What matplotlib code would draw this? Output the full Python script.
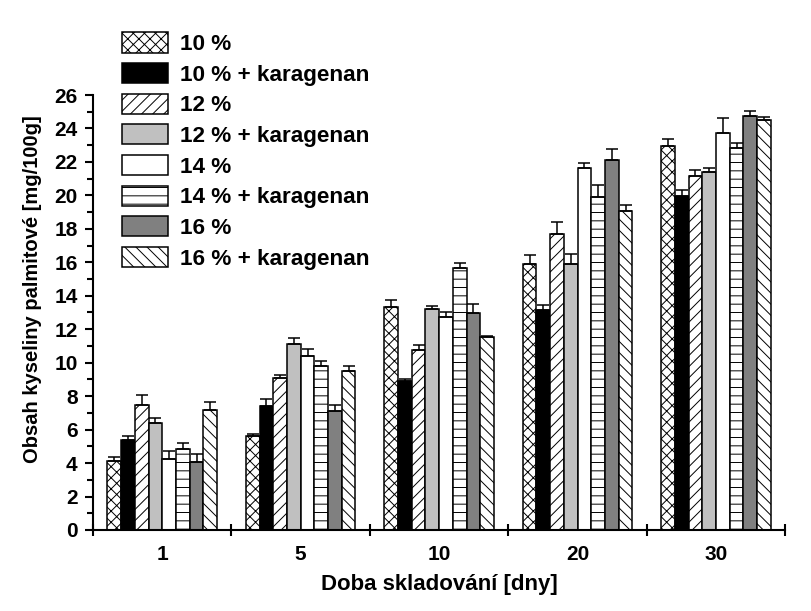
import numpy as np
import matplotlib
matplotlib.use('Agg')
import matplotlib.pyplot as plt
from matplotlib.ticker import MultipleLocator, FixedLocator

plt.rcParams['font.family'] = ['Liberation Sans', 'DejaVu Sans']
plt.rcParams['font.weight'] = 'bold'
plt.rcParams['hatch.linewidth'] = 0.7

days = ['1', '5', '10', '20', '30']
series = ['10 %', '10 % + karagenan', '12 %', '12 % + karagenan',
          '14 %', '14 % + karagenan', '16 %', '16 % + karagenan']

# mean values per series (one value per storage day)
v10 = [4.12, 5.62, 13.31, 15.88, 22.93]
v10k = [5.38, 7.41, 8.93, 13.15, 19.94]
v12 = [7.47, 9.08, 10.76, 17.67, 21.14]
v12k = [6.38, 11.10, 13.19, 15.88, 21.38]
v14 = [4.22, 10.40, 12.71, 21.62, 23.71]
v14k = [4.84, 9.80, 15.66, 19.89, 22.81]
v16 = [4.05, 7.10, 12.97, 22.10, 24.75]
v16k = [7.15, 9.50, 11.55, 19.07, 24.49]

# upper error bars
e10 = [0.23, 0.10, 0.44, 0.54, 0.46]
e10k = [0.22, 0.40, 0.10, 0.30, 0.36]
e12 = [0.60, 0.17, 0.30, 0.74, 0.40]
e12k = [0.30, 0.40, 0.18, 0.60, 0.24]
e14 = [0.50, 0.40, 0.32, 0.30, 0.90]
e14k = [0.36, 0.30, 0.28, 0.71, 0.30]
e16 = [0.47, 0.40, 0.54, 0.65, 0.31]
e16k = [0.48, 0.30, 0.05, 0.34, 0.18]

values = [v10, v10k, v12, v12k, v14, v14k, v16, v16k]
errors = [e10, e10k, e12, e12k, e14, e14k, e16, e16k]
colors = ['white', 'black', 'white', '#c0c0c0', 'white', 'white', '#808080', 'white']
hatches = ['xxx', None, '///', None, None, '--', None, '\\\\\\']

fig = plt.figure(figsize=(8.11, 6.11), dpi=100)
ax = fig.add_axes([0.1147, 0.1326, 0.8535, 0.7119])

x = np.arange(len(days))
w = 0.099
for i in range(len(series)):
    pos = x + (i - 3.5) * w
    ax.bar(pos, values[i], w, color=colors[i], edgecolor='black', linewidth=1.1,
           hatch=hatches[i], label=series[i], zorder=2)
    ax.errorbar(pos, values[i], yerr=[np.zeros(len(days)), errors[i]], fmt='none',
                ecolor='black', elinewidth=1.1, capsize=4.3, capthick=1.1, zorder=3)

ax.set_xlim(-0.5, 4.5)
ax.set_ylim(0, 26)
ax.spines['top'].set_visible(False)
ax.spines['right'].set_visible(False)
ax.spines['left'].set_linewidth(1.5)
ax.spines['bottom'].set_linewidth(1.5)

ax.yaxis.set_major_locator(MultipleLocator(2))
ax.yaxis.set_minor_locator(MultipleLocator(1))
ax.tick_params(axis='y', which='major', direction='out', length=6, width=1.5,
               labelsize=15, pad=5)
ax.tick_params(axis='y', which='minor', direction='out', length=4, width=1.5)

ax.set_xticks(x)
ax.set_xticklabels(days)
ax.xaxis.set_minor_locator(FixedLocator(np.arange(-0.5, 5, 1)))
ax.tick_params(axis='x', which='major', length=0, labelsize=15, pad=11)
ax.tick_params(axis='x', which='minor', direction='inout', length=9, width=1.5)

ax.set_ylabel('Obsah kyseliny palmitové [mg/100g]', fontsize=14.5, fontweight='bold')
ax.set_xlabel('Doba skladování [dny]', fontsize=16, fontweight='bold')
ax.yaxis.set_label_coords(-0.074, 0.554)
ax.xaxis.set_label_coords(0.5, -0.101)

fig.legend(loc='upper left', bbox_to_anchor=(0.150, 0.947), frameon=False,
           fontsize=16.2, handlelength=2.07, handleheight=1.0, labelspacing=0.35,
           handletextpad=0.53, borderpad=0, borderaxespad=0)

fig.savefig('out.png', dpi=100)
